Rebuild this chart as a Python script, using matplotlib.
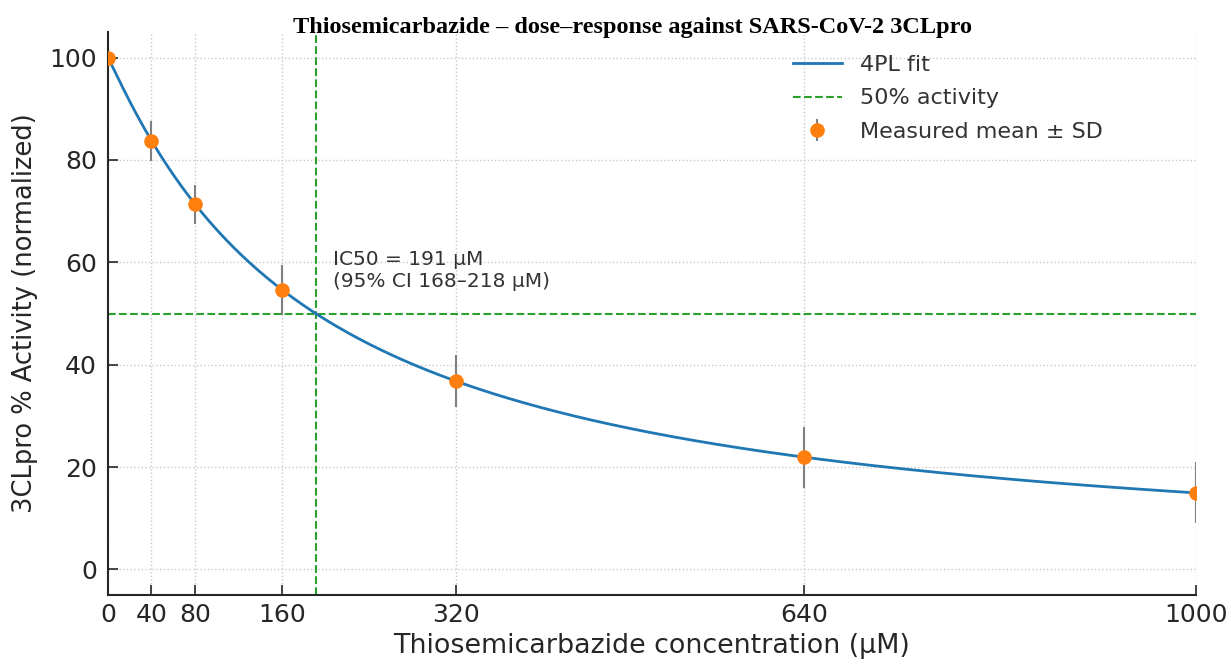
import matplotlib
matplotlib.use("Agg")
import matplotlib.pyplot as plt
import numpy as np

conc = [0, 40, 80, 160, 320, 640, 1000]
activity = [100.0, 83.7, 71.3, 54.6, 36.8, 21.9, 15.0]
sd = [0.0, 4.0, 3.9, 4.8, 5.0, 6.0, 6.0]
xtick_vals = [0, 40, 80, 160, 320, 640, 1000]
ytick_vals = [0, 20, 40, 60, 80, 100]

# 4PL fit parameters
top, bottom, ic50, hill = 100.0, 0.0, 191.0, 1.05
ci_low, ci_high = 168, 218

text_col = "#262626"
plt.rcParams["font.family"] = "DejaVu Sans"

fig = plt.figure(figsize=(12.31, 6.64), dpi=100)
ax = fig.add_axes([0.0877, 0.1039, 0.8839, 0.8479])

x_fit = np.linspace(0, 1000, 500)
y_fit = bottom + (top - bottom) / (1 + (x_fit / ic50) ** hill)
ax.plot(x_fit, y_fit, color="#1f77b4", lw=2.0, label="4PL fit", zorder=3)

ax.axhline(50, color="#2ca02c", ls="--", lw=1.5, label="50% activity", zorder=2)
ax.axvline(ic50, color="#2ca02c", ls="--", lw=1.5, zorder=2)

ax.errorbar(conc, activity, yerr=sd, fmt="o", color="#ff7f0e", ms=9.5,
            ecolor="#808080", elinewidth=1.5, capsize=0,
            label="Measured mean ± SD", zorder=4)

ax.text(207, 54.3, f"IC50 = {ic50:.0f} µM\n(95% CI {ci_low}–{ci_high} µM)",
        fontsize=14.5, color="#333333", ha="left", va="bottom", linespacing=1.2)

ax.set_xlim(0, 1000)
ax.set_ylim(-5, 105)
ax.set_xticks(xtick_vals)
ax.set_yticks(ytick_vals)
ax.tick_params(direction="in", length=7, width=1.2, labelsize=18,
               labelcolor=text_col, color=text_col)
ax.tick_params(axis="x", pad=6)
ax.tick_params(axis="y", pad=8)
ax.grid(True, ls=":", color="#c8c8c8", lw=1.0)
for s in ["top", "right"]:
    ax.spines[s].set_visible(False)
for s in ["left", "bottom"]:
    ax.spines[s].set_linewidth(1.5)
    ax.spines[s].set_color(text_col)

ax.set_xlabel("Thiosemicarbazide concentration (µM)", fontsize=19.4, color=text_col, labelpad=4)
ax.set_ylabel("3CLpro % Activity (normalized)", fontsize=18.5, color=text_col, labelpad=8)

ax.legend(loc="upper left", bbox_to_anchor=(0.6296, 0.96), frameon=False,
          fontsize=16, borderpad=0, borderaxespad=0, labelcolor="#333333",
          handlelength=2.2, handletextpad=0.8, labelspacing=0.62)

fig.text(0.514, 0.958, "Thiosemicarbazide – dose–response against SARS-CoV-2 3CLpro",
         family="Liberation Serif", weight="bold", fontsize=17.5, ha="center", va="center",
         color="black")

fig.savefig("out.png", dpi=100)
